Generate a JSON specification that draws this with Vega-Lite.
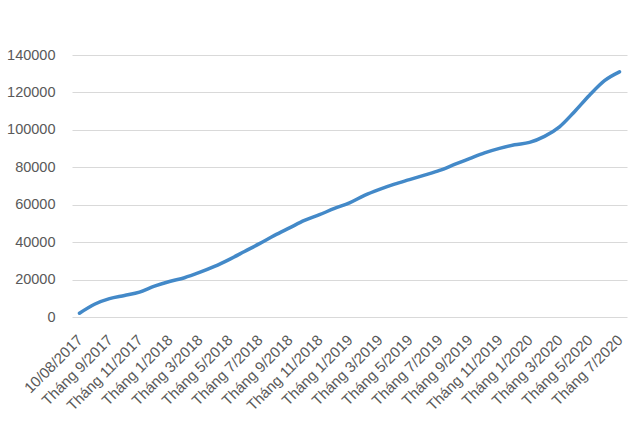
{
  "$schema": "https://vega.github.io/schema/vega-lite/v6.json",
  "width": 555,
  "height": 262,
  "autosize": "none",
  "padding": {"left": 72, "top": 55, "right": 13, "bottom": 114},
  "background": "white",
  "config": {"view": {"stroke": null}},
  "data": {
    "values": [
      {"thang": "10/08/2017", "gia_tri": 2000},
      {"thang": "Tháng 8/2017", "gia_tri": 6800},
      {"thang": "Tháng 9/2017", "gia_tri": 9800},
      {"thang": "Tháng 10/2017", "gia_tri": 11500},
      {"thang": "Tháng 11/2017", "gia_tri": 13300},
      {"thang": "Tháng 12/2017", "gia_tri": 16500},
      {"thang": "Tháng 1/2018", "gia_tri": 19000},
      {"thang": "Tháng 2/2018", "gia_tri": 21000},
      {"thang": "Tháng 3/2018", "gia_tri": 23800},
      {"thang": "Tháng 4/2018", "gia_tri": 27000},
      {"thang": "Tháng 5/2018", "gia_tri": 30800},
      {"thang": "Tháng 6/2018", "gia_tri": 35000},
      {"thang": "Tháng 7/2018", "gia_tri": 39200},
      {"thang": "Tháng 8/2018", "gia_tri": 43600},
      {"thang": "Tháng 9/2018", "gia_tri": 47600},
      {"thang": "Tháng 10/2018", "gia_tri": 51600},
      {"thang": "Tháng 11/2018", "gia_tri": 54700},
      {"thang": "Tháng 12/2018", "gia_tri": 58000},
      {"thang": "Tháng 1/2019", "gia_tri": 61000},
      {"thang": "Tháng 2/2019", "gia_tri": 65000},
      {"thang": "Tháng 3/2019", "gia_tri": 68200},
      {"thang": "Tháng 4/2019", "gia_tri": 71000},
      {"thang": "Tháng 5/2019", "gia_tri": 73400},
      {"thang": "Tháng 6/2019", "gia_tri": 75800},
      {"thang": "Tháng 7/2019", "gia_tri": 78300},
      {"thang": "Tháng 8/2019", "gia_tri": 81500},
      {"thang": "Tháng 9/2019", "gia_tri": 84600},
      {"thang": "Tháng 10/2019", "gia_tri": 87700},
      {"thang": "Tháng 11/2019", "gia_tri": 90100},
      {"thang": "Tháng 12/2019", "gia_tri": 92000},
      {"thang": "Tháng 1/2020", "gia_tri": 93300},
      {"thang": "Tháng 2/2020", "gia_tri": 96500},
      {"thang": "Tháng 3/2020", "gia_tri": 101600},
      {"thang": "Tháng 4/2020", "gia_tri": 109700},
      {"thang": "Tháng 5/2020", "gia_tri": 118500},
      {"thang": "Tháng 6/2020", "gia_tri": 126300},
      {"thang": "Tháng 7/2020", "gia_tri": 131000}
    ]
  },
  "mark": {"type": "line", "interpolate": "monotone", "color": "#4389c8", "strokeWidth": 3.5, "strokeCap": "round"},
  "encoding": {
    "x": {
      "field": "thang",
      "type": "ordinal",
      "sort": null,
      "scale": {"type": "point", "padding": 0.5},
      "axis": {
        "title": null,
        "values": ["10/08/2017", "Tháng 9/2017", "Tháng 11/2017", "Tháng 1/2018", "Tháng 3/2018", "Tháng 5/2018", "Tháng 7/2018", "Tháng 9/2018", "Tháng 11/2018", "Tháng 1/2019", "Tháng 3/2019", "Tháng 5/2019", "Tháng 7/2019", "Tháng 9/2019", "Tháng 11/2019", "Tháng 1/2020", "Tháng 3/2020", "Tháng 5/2020", "Tháng 7/2020"],
        "labelAngle": -45,
        "labelAlign": "right",
        "labelBaseline": "middle",
        "labelFont": "Liberation Sans",
        "labelFontSize": 15,
        "labelColor": "#595959",
        "labelPadding": 20,
        "ticks": false,
        "tickSize": 0,
        "domain": false,
        "grid": false,
        "labelOverlap": false
      }
    },
    "y": {
      "field": "gia_tri",
      "type": "quantitative",
      "scale": {"domain": [0, 140000], "nice": false},
      "axis": {
        "title": null,
        "values": [0, 20000, 40000, 60000, 80000, 100000, 120000, 140000],
        "format": "d",
        "labelFont": "Liberation Sans",
        "labelFontSize": 14.5,
        "labelColor": "#595959",
        "labelPadding": 17,
        "ticks": false,
        "tickSize": 0,
        "domain": false,
        "grid": true,
        "gridColor": "#d9d9d9",
        "gridWidth": 1
      }
    }
  }
}
